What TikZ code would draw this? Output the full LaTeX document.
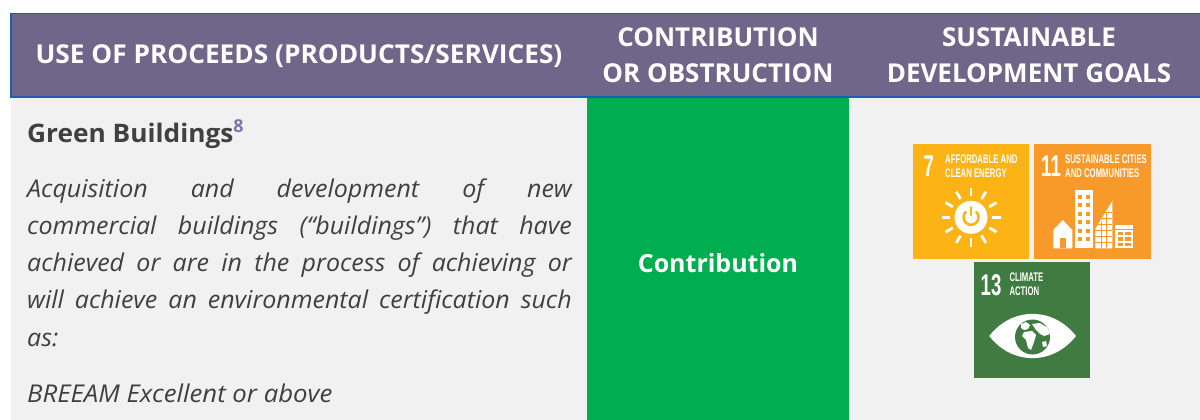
\documentclass[tikz,border=0pt]{standalone}
\usepackage{fontspec}
\usepackage{graphicx}
\usetikzlibrary{calc}
\setmainfont{Open Sans}
\newfontfamily\sdgfont{Liberation Sans}[BoldFont={Liberation Sans Bold}]
\definecolor{headpurple}{HTML}{6F6789}
\definecolor{headblue}{HTML}{1B5FAE}
\definecolor{bodygray}{HTML}{F1F1F1}
\definecolor{contribgreen}{HTML}{00AE4F}
\definecolor{textgray}{HTML}{404040}
\definecolor{suppurple}{HTML}{7E72A6}
\definecolor{sdgseven}{HTML}{FBB316}
\definecolor{sdgeleven}{HTML}{F89A2A}
\definecolor{sdgthirteen}{HTML}{407B41}
\tikzset{
  hdr/.style={anchor=base, inner sep=0pt, text=white, font=\fontsize{26}{30}\selectfont\bfseries},
  bodytxt/.style={anchor=base west, inner sep=0pt, text=textgray, font=\fontsize{24.5}{28}\selectfont\itshape},
  sdgnum/.style={anchor=base west, inner sep=0pt, text=white, font=\sdgfont\fontsize{30}{30}\selectfont\bfseries},
  sdgtxt/.style={anchor=base west, inner sep=0pt, text=white, align=left, font=\sdgfont\fontsize{12.5}{13.7}\selectfont\bfseries},
  ray/.style={white, line width=2.8pt},
}
\newcommand{\cnd}[1]{\scalebox{0.62}[1]{#1}}
\newcommand{\wdr}[1]{\scalebox{1.02}[1]{#1}}
\begin{document}
\begin{tikzpicture}[x=1pt,y=-1pt]
\useasboundingbox (0,0) rectangle (1200,420);
\fill[white] (0,0) rectangle (1200,420);
% body
\fill[bodygray] (11,97) rectangle (1200,420);
\fill[contribgreen] (587,97) rectangle (849,420);
% header
\draw[headblue, line width=1.6pt, fill=headpurple] (11,13.5) rectangle (1202,97);
\node[hdr] (h1) at (299,64) {\scalebox{1.01}[1]{USE OF PROCEEDS (PRODUCTS/SERVICES)}};
\node[hdr] (h2a) at (718,47) {CONTRIBUTION};
\node[hdr] (h2b) at (718,83) {OR OBSTRUCTION};
\node[hdr] (h3a) at (1029,47) {SUSTAINABLE};
\node[hdr] (h3b) at (1029,83) {DEVELOPMENT GOALS};
% column 1 text
\node[anchor=base west, inner sep=0pt, text=textgray, font=\fontsize{25.5}{28}\selectfont\bfseries] (gb) at (27,142) {\scalebox{1.03}[1]{Green Buildings}\textsuperscript{\textcolor{suppurple}{8}}};
\node[bodytxt] (l1) at (27,197) {\wdr{\makebox[534pt][s]{Acquisition and development of new}}};
\node[bodytxt] (l2) at (27,234) {\wdr{\makebox[534pt][s]{commercial buildings (“buildings”) that have}}};
\node[bodytxt] (l3) at (27,271) {\wdr{\makebox[534pt][s]{achieved or are in the process of achieving or}}};
\node[bodytxt] (l4) at (27,308) {\wdr{\makebox[534pt][s]{will achieve an environmental certification such}}};
\node[bodytxt] (l5) at (27,346) {\wdr{as:}};
\node[bodytxt] (l6) at (27,402) {\scalebox{1.05}[1]{BREEAM Excellent or above}};
% column 2
\node[anchor=base, inner sep=0pt, text=white, font=\fontsize{25}{28}\selectfont\bfseries] (contr) at (718,272) {Contribution};
% SDG 7
\begin{scope}[shift={(913,144)}]
  \fill[sdgseven] (0,0) rectangle (116,115);
  \node[sdgnum] (n7) at (10.5,32.7) {\cnd{7}};
  \node[sdgtxt] (t7) at (32,33) {\cnd{AFFORDABLE AND}\\\cnd{CLEAN ENERGY}};
  \coordinate (sun) at (58,73.3);
  \foreach \a in {0,30,...,330} \draw[ray] ($(sun)+(\a:21)$) -- ($(sun)+(\a:29.5)$);
  \fill[white] (sun) circle (16.5);
  \draw[sdgseven, line width=2.6pt] ($(sun)+(-50:7.5)$) arc[start angle=-50, end angle=230, radius=7.5];
  \draw[sdgseven, line width=2.6pt, line cap=round] ($(sun)+(0,-10)$) -- ($(sun)+(0,-2)$);
\end{scope}
% SDG 11
\begin{scope}[shift={(1034,144)}]
  \fill[sdgeleven] (0,0) rectangle (117,115);
  \node[sdgnum] (n11) at (7,32.7) {\cnd{11}};
  \node[sdgtxt] (t11) at (31,33) {\cnd{SUSTAINABLE CITIES}\\\cnd{AND COMMUNITIES}};
  % house
  \fill[white] (19.3,104.3) -- (19.3,86) -- (28.8,76) -- (38.3,86) -- (38.3,104.3) -- cycle;
  \fill[sdgeleven] (26,94) rectangle (31.6,104.3);
  % tall building
  \fill[white] (40.5,46) rectangle (58.5,104.3);
  \foreach \r in {0,...,5} {
    \fill[sdgeleven] (43.5,{51+8.4*\r}) rectangle +(4,4);
    \fill[sdgeleven] (51.5,{51+8.4*\r}) rectangle +(4,4);
  }
  % slanted building
  \fill[white] (61.3,104.3) -- (61.3,85) -- (78.3,57) -- (78.3,104.3) -- cycle;
  \foreach \r in {0,...,5} {
    \draw[sdgeleven, line width=0.9pt] (61.3,{68+6*\r}) -- (78.3,{68+6*\r});
  }
  \draw[sdgeleven, line width=0.9pt] (67,78) -- (67,104.3);
  \draw[sdgeleven, line width=0.9pt] (72.7,68) -- (72.7,104.3);
  % short building
  \fill[white] (81,81) rectangle (99.3,104.3);
  \draw[sdgeleven, line width=1pt] (81,85) -- (99.3,85);
  \foreach \r in {0,1,2} {
    \fill[sdgeleven] (83.5,{88+5.3*\r}) rectangle +(5.5,3.3);
    \fill[sdgeleven] (91.3,{88+5.3*\r}) rectangle +(5.5,3.3);
  }
\end{scope}
% SDG 13
\begin{scope}[shift={(974,262)}]
  \fill[sdgthirteen] (0,0) rectangle (116,116);
  \node[sdgnum] (n13) at (6.5,33) {\cnd{13}};
  \node[sdgtxt] (t13) at (35.3,33) {\cnd{CLIMATE}\\\cnd{ACTION}};
  \fill[white] (15.3,74) .. controls (38,44.5) and (79,44.5) .. (102,74)
                          .. controls (79,103.5) and (38,103.5) .. (15.3,74) -- cycle;
  \coordinate (globe) at (58.5,75);
  \fill[sdgthirteen] (globe) circle (17.5);
  \begin{scope}
    \clip (globe) circle (17.5);
    \fill[white] (47,62) -- (52,60) -- (56,63) -- (54,67) -- (50,68) -- (47,66) -- cycle;
    \fill[white] (50,70) -- (58,69) -- (62,73) -- (60,80) -- (57,88) -- (54,86) -- (52,78) -- (48,74) -- cycle;
    \fill[white] (58,62) -- (66,61) -- (74,66) -- (76,72) -- (70,74) -- (66,72) -- (62,68) -- cycle;
    \fill[white] (68,80) -- (72,79) -- (73,84) -- (69,85) -- cycle;
  \end{scope}
\end{scope}
\end{tikzpicture}
\end{document}
